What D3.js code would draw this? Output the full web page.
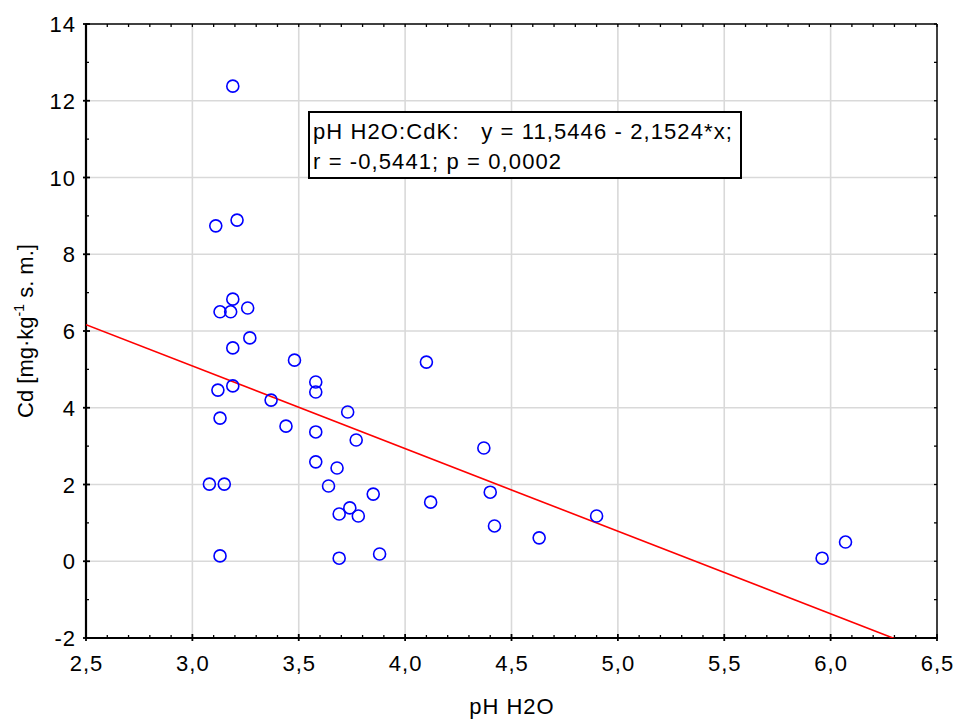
<!DOCTYPE html>
<html>
<head>
<meta charset="utf-8">
<script src="https://cdn.jsdelivr.net/npm/d3@7"></script>
<style>
  html, body { margin: 0; padding: 0; background: #fff; }
  svg { display: block; font-family: "Liberation Sans", Arial, sans-serif; }
</style>
</head>
<body>
<svg id="chart" width="957" height="719"></svg>
<script>
// ---- data ----
const phH2O = [3.19, 3.11, 3.21, 3.13, 3.18, 3.19, 3.26, 3.27, 3.19, 3.48,
               3.12, 3.19, 3.13, 3.37, 3.44, 3.58, 3.58, 3.73, 3.58, 3.77,
               3.58, 3.68, 3.64, 3.85, 3.74, 3.69, 3.78, 3.69, 3.88, 3.08,
               3.15, 3.13, 4.10, 4.37, 4.40, 4.12, 4.42, 4.63, 4.90, 5.96, 6.07];
const cdK   = [12.38, 8.74, 8.89, 6.50, 6.50, 6.83, 6.60, 5.82, 5.56, 5.24,
               4.46, 4.57, 3.73, 4.20, 3.52, 4.67, 4.41, 3.89, 3.37, 3.16,
               2.59, 2.43, 1.96, 1.75, 1.39, 1.23, 1.18, 0.08, 0.19, 2.01,
               2.01, 0.14, 5.19, 2.95, 1.80, 1.54, 0.92, 0.61, 1.18, 0.08, 0.50];
const regression = [11.5446, -2.1524];   // intercept, slope
const xTicks = [2.5, 3.0, 3.5, 4.0, 4.5, 5.0, 5.5, 6.0, 6.5];
const yTicks = [-2, 0, 2, 4, 6, 8, 10, 12, 14];
const legendLines = ["pH H2O:CdK:   y = 11,5446 - 2,1524*x;", "r = -0,5441; p = 0,0002"];
const xTitle = "pH H2O";

// ---- layout ----
const svg = d3.select("#chart");
const L = 86, R = 937, T = 24, B = 638;
const x = d3.scaleLinear().domain([2.5, 6.5]).range([L, R]);
const y = d3.scaleLinear().domain([-2, 14]).range([B, T]);
const FS = 22;
const LS = 1;
const gridColor = "#d9d9d9";

// grid
svg.append("g").selectAll("line").data(xTicks.slice(1, -1)).join("line")
  .attr("x1", d => x(d)).attr("x2", d => x(d)).attr("y1", T).attr("y2", B)
  .attr("stroke", gridColor).attr("stroke-width", 1.6);
svg.append("g").selectAll("line").data(yTicks.slice(1, -1)).join("line")
  .attr("y1", d => y(d)).attr("y2", d => y(d)).attr("x1", L).attr("x2", R)
  .attr("stroke", gridColor).attr("stroke-width", 1.6);

// minor ticks
const xMinor = d3.range(25, 66).map(v => v / 10).filter(v => Math.abs(v * 2 - Math.round(v * 2)) > 1e-6);
const yMinor = d3.range(-2, 15).filter(v => v % 2 !== 0);
const allXm = d3.range(25, 66).map(v => v / 10);
const allYm = d3.range(-2, 15);
const tk = svg.append("g").attr("stroke", "#000").attr("stroke-width", 1.3);
tk.selectAll(".tt").data(allXm).join("line")
  .attr("x1", d => x(d)).attr("x2", d => x(d)).attr("y1", T).attr("y2", T + 3);
tk.selectAll(".bt").data(xMinor).join("line")
  .attr("x1", d => x(d)).attr("x2", d => x(d)).attr("y1", B).attr("y2", B - 3);
tk.selectAll(".bm").data(xTicks).join("line")
  .attr("x1", d => x(d)).attr("x2", d => x(d)).attr("y1", B + 3).attr("y2", B - 4)
  .attr("stroke-width", 1.8);
tk.selectAll(".lt").data(yMinor).join("line")
  .attr("y1", d => y(d)).attr("y2", d => y(d)).attr("x1", L).attr("x2", L + 3);
tk.selectAll(".lm").data(yTicks).join("line")
  .attr("y1", d => y(d)).attr("y2", d => y(d)).attr("x1", L - 3).attr("x2", L + 4)
  .attr("stroke-width", 1.8);
tk.selectAll(".rt").data(allYm).join("line")
  .attr("y1", d => y(d)).attr("y2", d => y(d)).attr("x1", R).attr("x2", R - 3);

// frame
svg.append("line").attr("x1", L).attr("x2", R).attr("y1", T).attr("y2", T)
  .attr("stroke", "#000").attr("stroke-width", 1.5);
svg.append("line").attr("x1", R).attr("x2", R).attr("y1", T).attr("y2", B)
  .attr("stroke", "#000").attr("stroke-width", 1.5);
svg.append("line").attr("x1", L).attr("x2", L).attr("y1", T - 0.5).attr("y2", B + 1)
  .attr("stroke", "#000").attr("stroke-width", 2.2);
svg.append("line").attr("x1", L - 1).attr("x2", R + 1).attr("y1", B).attr("y2", B)
  .attr("stroke", "#000").attr("stroke-width", 2.2);

// tick labels
const fmtX = d => d3.format(".1f")(d).replace(".", ",");
svg.append("g").selectAll("text").data(xTicks).join("text")
  .attr("x", d => x(d) + LS / 2).attr("y", B + 33)
  .attr("text-anchor", "middle").attr("font-size", FS).attr("letter-spacing", LS)
  .attr("fill", "#000").text(fmtX);
svg.append("g").selectAll("text").data(yTicks).join("text")
  .attr("x", L - 10).attr("y", d => y(d) + 8)
  .attr("text-anchor", "end").attr("font-size", FS).attr("letter-spacing", LS)
  .attr("fill", "#000").text(d => d < 0 ? "-" + Math.abs(d) : String(d));

// axis titles
svg.append("text").attr("x", (L + R) / 2 + LS / 2).attr("y", 714)
  .attr("text-anchor", "middle").attr("font-size", FS).attr("letter-spacing", LS).text(xTitle);
const yt = svg.append("text")
  .attr("transform", `translate(33,${(T + B) / 2}) rotate(-90)`)
  .attr("text-anchor", "middle").attr("font-size", FS);
yt.append("tspan").text("Cd [mg\u00B7kg");
yt.append("tspan").attr("font-size", 14).attr("dy", -9).text("-1");
yt.append("tspan").attr("dy", 9).text(" s. m.]");

// regression line (clipped to plot area)
svg.append("clipPath").attr("id", "clip").append("rect")
  .attr("x", L).attr("y", T).attr("width", R - L).attr("height", B - T);
svg.append("path")
  .attr("clip-path", "url(#clip)")
  .attr("d", d3.line().x(d => x(d)).y(d => y(regression[0] + regression[1] * d))(x.domain()))
  .attr("stroke", "#ff0000").attr("stroke-width", 1.6).attr("fill", "none");

// points
svg.append("g").selectAll("circle").data(phH2O.map((v, i) => [v, cdK[i]])).join("circle")
  .attr("cx", d => x(d[0])).attr("cy", d => y(d[1])).attr("r", 6)
  .attr("fill", "none").attr("stroke", "#0000ff").attr("stroke-width", 1.6);

// legend box
svg.append("rect").attr("x", 309).attr("y", 112).attr("width", 432).attr("height", 66)
  .attr("fill", "#fff").attr("stroke", "#000").attr("stroke-width", 2);
svg.append("g").selectAll("text").data(legendLines).join("text")
  .attr("x", 313).attr("y", (d, i) => 139 + i * 30)
  .attr("font-size", FS).attr("letter-spacing", 1.1)
  .attr("xml:space", "preserve").style("white-space", "pre")
  .text(d => d);
</script>
</body>
</html>
